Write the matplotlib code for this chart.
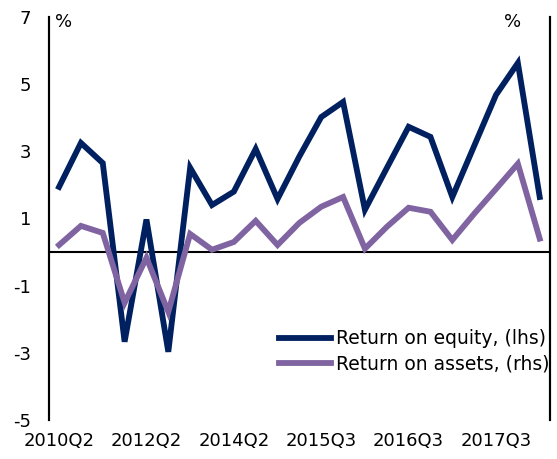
import numpy as np
import matplotlib
matplotlib.use('Agg')
import matplotlib.pyplot as plt

plt.rcParams['axes.unicode_minus'] = False

periods = ['2010Q2', '2010Q4', '2011Q2', '2011Q4', '2012Q2', '2012Q4', '2013Q2', '2013Q4',
           '2014Q2', '2014Q4', '2015Q1', '2015Q2', '2015Q3', '2015Q4', '2016Q1', '2016Q2',
           '2016Q3', '2016Q4', '2017Q1', '2017Q2', '2017Q3', '2017Q4', '2018Q1']
roe = [1.94, 3.25, 2.65, -2.67, 0.97, -2.97, 2.51, 1.40, 1.80, 3.07, 1.58, 2.85,
       4.02, 4.47, 1.26, 2.50, 3.73, 3.43, 1.64, 3.16, 4.68, 5.63, 1.64]
roa = [0.21, 0.78, 0.57, -1.51, -0.17, -1.78, 0.54, 0.07, 0.30, 0.93, 0.21, 0.87,
       1.35, 1.64, 0.10, 0.75, 1.32, 1.20, 0.36, 1.14, 1.88, 2.63, 0.40]
shown_labels = ['2010Q2', '2012Q2', '2014Q2', '2015Q3', '2016Q3', '2017Q3']
yticks = [-5, -3, -1, 1, 3, 5, 7]

navy = '#002060'
purple = '#8064A2'

fig = plt.figure(figsize=(5.57, 4.59), dpi=100)
ax = fig.add_axes([0.088, 0.085, 0.899, 0.878])
ax2 = ax.twinx()

x = np.arange(len(periods))
l1, = ax.plot(x, roe, color=navy, lw=4.2, solid_joinstyle='miter',
              label='Return on equity, (lhs)')
l2, = ax2.plot(x, roa, color=purple, lw=4.2, solid_joinstyle='miter',
               label='Return on assets, (rhs)')
ax.axhline(0, color='black', lw=1.5, zorder=1)

for a in (ax, ax2):
    a.set_ylim(-5, 7)
    a.set_xlim(-0.46, len(periods) - 1 + 0.46)
    for s in ('top', 'bottom'):
        a.spines[s].set_visible(False)
    a.spines['left'].set_linewidth(1.5)
    a.spines['right'].set_linewidth(1.5)

ax.set_yticks(yticks)
ax.tick_params(axis='y', length=0, pad=13, labelsize=13)
ax2.set_yticks([])
tick_pos = [periods.index(p) for p in shown_labels]
ax.set_xticks(tick_pos)
ax.set_xticklabels(shown_labels)
ax.tick_params(axis='x', length=0, pad=9, labelsize=13)

fig.text(0.099, 0.952, '%', fontsize=13, va='center', ha='left')
fig.text(0.921, 0.952, '%', fontsize=13, va='center', ha='center')

ax.legend(handles=[l1, l2], loc='lower right', bbox_to_anchor=(1.0, 0.115),
          frameon=False, fontsize=13.5, handlelength=2.8, handletextpad=0.27,
          labelspacing=0.33, borderaxespad=0, borderpad=0)

fig.savefig('out.png', dpi=100)
